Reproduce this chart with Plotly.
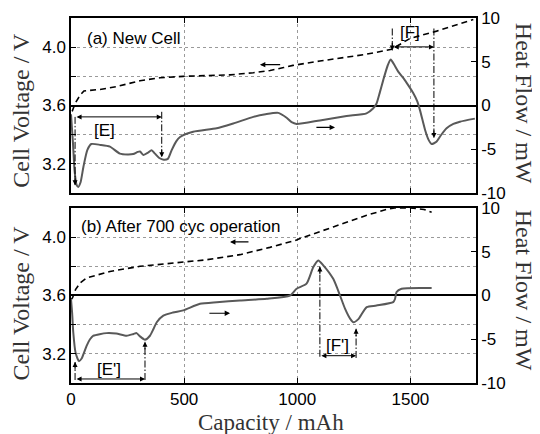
import plotly.graph_objects as go

# ---------------- data ----------------
# (a) New cell: cell voltage
cap_a_v = [5, 20, 40, 57, 128, 203, 305, 393, 495, 644, 703, 806, 880, 940, 981,
           1100, 1218, 1300, 1417, 1498, 1616, 1778]
volt_a = [3.56, 3.62, 3.67, 3.70, 3.71, 3.73, 3.77, 3.79, 3.80, 3.805, 3.81, 3.825, 3.84, 3.86, 3.875,
          3.905, 3.93, 3.95, 3.985, 4.06, 4.11, 4.19]
# (a) New cell: heat flow
cap_a_h = [0, 8, 16, 24, 32, 42, 55, 72, 90, 130, 172, 216, 250, 275, 295, 305, 320, 340, 356, 371,
           390, 410, 428, 445, 465, 482, 540, 644, 717, 806, 860, 916, 953, 975, 997, 1100, 1218, 1306,
           1335, 1350, 1365, 1380, 1400, 1413, 1430, 1447, 1470, 1491, 1513, 1530, 1542, 1565, 1580,
           1594, 1615, 1635, 1660, 1690, 1719, 1785]
heat_a = [-1.0, -4.0, -7.5, -9.0, -9.3, -8.8, -7.0, -5.1, -4.4, -4.5, -4.7, -5.5, -5.6, -5.55, -5.3,
          -5.25, -5.65, -5.4, -5.1, -5.5, -6.0, -6.2, -6.1, -5.1, -4.1, -3.6, -3.0, -2.6, -2.05, -1.3,
          -1.0, -0.84, -1.4, -1.9, -2.1, -1.7, -1.2, -0.9, -0.35, 0.2, 1.5, 2.9, 4.6, 5.25, 4.6, 3.85,
          3.1, 2.3, 1.4, 0.5, -0.5, -2.8, -3.9, -4.4, -4.15, -3.4, -2.6, -2.1, -1.85, -1.5]
# (b) After 700 cycles: cell voltage
cap_b_v = [0, 7, 20, 40, 69, 172, 305, 437, 570, 600, 747, 879, 997, 1012, 1159, 1307, 1395,
           1430, 1500, 1560, 1594]
volt_b = [3.57, 3.585, 3.64, 3.686, 3.72, 3.765, 3.80, 3.82, 3.845, 3.845, 3.88, 3.93, 3.98, 3.99,
          4.07, 4.15, 4.19, 4.20, 4.20, 4.19, 4.17]
# (b) After 700 cycles: heat flow
cap_b_h = [0, 5, 10, 20, 35, 47, 58, 69, 84, 99, 157, 200, 246, 276, 290, 305, 327, 349, 365, 379,
           408, 450, 496, 570, 644, 747, 865, 968, 997, 1041, 1071, 1093, 1115, 1159, 1189, 1211,
           1235, 1248, 1270, 1307, 1350, 1424, 1432, 1439, 1461, 1594]
heat_b = [-0.4, -2.0, -4.2, -6.5, -7.5, -7.2, -6.5, -5.75, -5.0, -4.6, -4.3, -4.35, -4.6, -4.4, -4.3,
          -4.67, -5.05, -4.6, -3.8, -3.06, -2.3, -1.95, -1.7, -0.95, -0.76, -0.57, -0.38, 0.0, 0.77,
          1.35, 3.25, 4.0, 3.45, 1.9, 0.0, -1.5, -2.7, -3.06, -2.7, -1.33, -1.15, -0.76, -0.4, 0.4,
          0.77, 0.85]

x_ticks = [0, 500, 1000, 1500]
v_ticks = [3.2, 3.4, 3.6, 3.8, 4.0]
v_labels = ["3.2", "", "3.6", "", "4.0"]
h_ticks = [-10, -5, 0, 5, 10]
h_labels = ["-10", "-5", "0", "5", "10"]

# annotation brackets (capacity in mAh, heat flow in mW)
E_x = [18, 401]
E_tops = [-1.3, -0.72]
E_tips = [-9.1, -5.9]
E_bar = -1.3
F_x = [1420, 1604]
F_tops = [8.8, 8.8]
F_tips = [6.3, -3.7]
F_bar = 6.7
Ep_x = [18, 327]
Ep_bots = [-9.66, -9.66]
Ep_tips = [-7.6, -5.3]
Ep_bar = -9.54
Fp_x = [1100, 1260]
Fp_bots = [-7.0, -7.14]
Fp_tips = [3.3, -3.8]
Fp_bar = -6.88

SANS = "Liberation Sans, Arial, sans-serif"
SERIF = "Liberation Serif, Times New Roman, serif"
HF_COLOR = "#595959"
DASH = "6px,4px"
DASHDOT = "7px,2px,1.5px,2px"

fig = go.Figure()
fig.add_trace(go.Scatter(x=cap_a_v, y=volt_a, xaxis="x2", yaxis="y", mode="lines",
                         line=dict(color="black", width=1.6, dash=DASH), showlegend=False))
fig.add_trace(go.Scatter(x=cap_a_h, y=heat_a, xaxis="x2", yaxis="y2", mode="lines",
                         line=dict(color=HF_COLOR, width=2, shape="spline", smoothing=0.6),
                         showlegend=False))
fig.add_trace(go.Scatter(x=cap_b_v, y=volt_b, xaxis="x", yaxis="y3", mode="lines",
                         line=dict(color="black", width=1.6, dash=DASH), showlegend=False))
fig.add_trace(go.Scatter(x=cap_b_h, y=heat_b, xaxis="x", yaxis="y4", mode="lines",
                         line=dict(color=HF_COLOR, width=2, shape="spline", smoothing=0.6),
                         showlegend=False))

axis_common = dict(showline=True, linecolor="black", linewidth=1.5, ticks="inside", ticklen=5,
                   tickcolor="black", tickfont=dict(family=SANS, size=17, color="black"),
                   automargin=False)
xcommon = dict(axis_common, range=[0, 1790], tickvals=x_ticks, mirror="ticks", showgrid=True,
               gridcolor="#9a9a9a", griddash="dot", gridwidth=1, zeroline=False)
vcommon = dict(axis_common, range=[3.0, 4.2], tickvals=v_ticks, ticktext=v_labels, mirror=True,
               showgrid=True, gridcolor="#9a9a9a", griddash="dot", gridwidth=1, zeroline=False)
hcommon = dict(axis_common, range=[-10, 10], tickvals=h_ticks, ticktext=h_labels, side="right",
               showgrid=False, zeroline=True, zerolinecolor="black", zerolinewidth=1.5)

# the page body adds an 8px offset, so the figure is 8px smaller than the window
fig.update_layout(
    width=532, height=426,
    margin=dict(l=63, r=64, t=10, b=51),
    paper_bgcolor="white", plot_bgcolor="white",
    xaxis=dict(xcommon, anchor="y3", domain=[0, 1]),
    xaxis2=dict(xcommon, anchor="y", domain=[0, 1], showticklabels=False, matches="x"),
    yaxis=dict(vcommon, anchor="x2", domain=[0.5205, 1]),
    yaxis2=dict(hcommon, anchor="x2", overlaying="y"),
    yaxis3=dict(vcommon, anchor="x", domain=[0, 0.4795]),
    yaxis4=dict(hcommon, anchor="x", overlaying="y3"),
)

shapes = []
anns = []


def vline(xr, yr, x, y0, y1):
    shapes.append(dict(type="line", xref=xr, yref=yr, x0=x, x1=x, y0=y0, y1=y1,
                       line=dict(color="black", width=1, dash=DASHDOT)))


def head(xr, yr, x, y, down):
    anns.append(dict(xref=xr, yref=yr, x=x, y=y, ax=0, ay=(-9 if down else 9), text="",
                     showarrow=True, arrowhead=2, arrowsize=1, arrowwidth=1, arrowcolor="black"))


def hbar(xr, yr, x0, x1, y):
    anns.append(dict(xref=xr, yref=yr, axref=xr, ayref=yr, x=x1, y=y, ax=x0, ay=y, text="",
                     showarrow=True, arrowhead=2, arrowside="end+start", startarrowhead=2,
                     arrowsize=1, arrowwidth=1, arrowcolor="black"))


def label(xr, yr, x, y, t, size=17):
    anns.append(dict(xref=xr, yref=yr, x=x, y=y, text=t, showarrow=False,
                     xanchor="center", yanchor="middle",
                     font=dict(family=SANS, size=size, color="black")))


# top panel brackets
for xx, a, b in zip(E_x, E_tops, E_tips):
    vline("x2", "y2", xx, a, b)
    head("x2", "y2", xx, b, True)
hbar("x2", "y2", E_x[0], E_x[1], E_bar)
label("x2", "y2", 150, -2.8, "[E]")
for xx, a, b in zip(F_x, F_tops, F_tips):
    vline("x2", "y2", xx, a, b)
    head("x2", "y2", xx, b, True)
hbar("x2", "y2", F_x[0], F_x[1], F_bar)
label("x2", "y2", 1498, 8.4, "[F]")

# bottom panel brackets
for xx, a, b in zip(Ep_x, Ep_bots, Ep_tips):
    vline("x", "y4", xx, a, b)
    head("x", "y4", xx, b, False)
hbar("x", "y4", Ep_x[0], Ep_x[1], Ep_bar)
label("x", "y4", 168, -8.4, "[E']")
for xx, a, b in zip(Fp_x, Fp_bots, Fp_tips):
    vline("x", "y4", xx, a, b)
    head("x", "y4", xx, b, False)
hbar("x", "y4", Fp_x[0], Fp_x[1], Fp_bar)
label("x", "y4", 1177, -5.66, "[F']")


# small direction arrows
def dirarrow(xr, yr, x_from, x_to, y):
    anns.append(dict(xref=xr, yref=yr, axref=xr, ayref=yr, x=x_to, y=y, ax=x_from, ay=y,
                     text="", showarrow=True, arrowhead=2, arrowsize=0.9, arrowwidth=1.2,
                     arrowcolor="black"))


dirarrow("x2", "y", 931, 835, 3.88)
dirarrow("x2", "y2", 1078, 1167, -2.5)
dirarrow("x", "y3", 791, 703, 3.967)
dirarrow("x", "y4", 605, 703, -2.03)

# panel titles
anns.append(dict(xref="x2 domain", yref="y domain", x=0.035, y=0.885, xanchor="left",
                 yanchor="middle", text="(a) New Cell", showarrow=False,
                 font=dict(family=SANS, size=17, color="black")))
anns.append(dict(xref="x domain", yref="y3 domain", x=0.02, y=0.893, xanchor="left",
                 yanchor="middle", text="(b) After 700 cyc operation", showarrow=False,
                 font=dict(family=SANS, size=17, color="black")))

# axis titles
tfont = dict(family=SERIF, size=24, color="#333333")
for yy in [0.748, 0.22]:
    anns.append(dict(xref="paper", yref="paper", x=-0.124, y=yy, text="Cell Voltage / V",
                     xanchor="center", yanchor="middle",
                     textangle=-90, showarrow=False, font=tfont))
for yy in [0.767, 0.255]:
    anns.append(dict(xref="paper", yref="paper", x=1.119, y=yy, text="Heat Flow / mW",
                     xanchor="center", yanchor="middle",
                     textangle=90, showarrow=False, font=tfont))
anns.append(dict(xref="paper", yref="paper", x=0.495, y=-0.108, text="Capacity / mAh",
                 xanchor="center", yanchor="middle",
                 showarrow=False, font=dict(family=SERIF, size=23, color="#333333")))

fig.update_layout(shapes=shapes, annotations=anns)
fig.write_html("out.html")
